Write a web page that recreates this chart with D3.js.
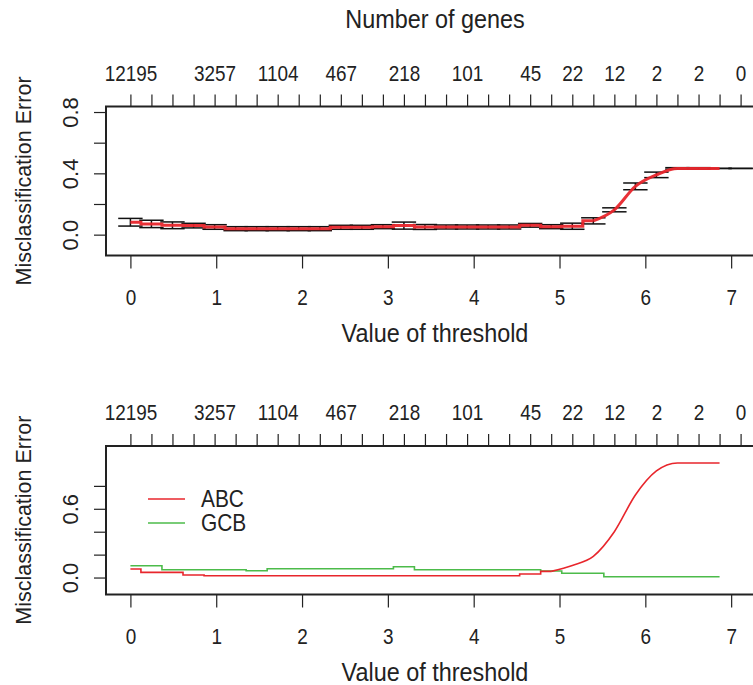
<!DOCTYPE html>
<html><head><meta charset="utf-8">
<script src="https://cdn.jsdelivr.net/npm/d3@7"></script>
<style>
body{margin:0;background:#fff}
svg{display:block}
text{font-family:"Liberation Sans",Arial,Helvetica,sans-serif;fill:#222}
</style>
</head><body>
<svg id="chart" width="753" height="685"></svg>
<script>
// ---- data ----
const thresholds = [0, 0.245, 0.490, 0.736, 0.981, 1.226, 1.471, 1.716, 1.961, 2.207,
  2.452, 2.697, 2.942, 3.187, 3.432, 3.678, 3.923, 4.168, 4.413, 4.658,
  4.903, 5.149, 5.394, 5.639, 5.884, 6.129, 6.374, 6.620, 6.865, 7.110];
const geneLabelIndex = [0, 4, 7, 10, 13, 16, 19, 21, 23, 25, 27, 29];
const geneLabels = ["12195", "3257", "1104", "467", "218", "101", "45", "22", "12", "2", "2", "0"];
// overall CV error (top panel)
const cvError = [0.081, 0.070, 0.061, 0.059, 0.050, 0.039, 0.039, 0.039, 0.039, 0.039,
  0.048, 0.048, 0.052, 0.059, 0.050, 0.050, 0.050, 0.050, 0.050, 0.061,
  0.052, 0.055, 0.090, 0.162, 0.315, 0.390, 0.432, 0.432, 0.432, 0.432];
const cvSE = [0.025, 0.024, 0.022, 0.015, 0.015, 0.013, 0.013, 0.013, 0.013, 0.013,
  0.013, 0.013, 0.013, 0.023, 0.016, 0.013, 0.013, 0.013, 0.013, 0.012,
  0.013, 0.020, 0.020, 0.013, 0.022, 0.018, 0.005, 0.005, 0.000, 0.000];
// class-wise error (bottom panel), last threshold has none
const classNames = ["ABC", "GCB"];
const errABC = [0.075, 0.045, 0.045, 0.022, 0.016, 0.016, 0.016, 0.016, 0.016, 0.016,
  0.016, 0.016, 0.016, 0.016, 0.016, 0.016, 0.016, 0.016, 0.016, 0.031,
  0.054, 0.106, 0.185, 0.400, 0.720, 0.930, 1.000, 1.000, 1.000];
const errGCB = [0.103, 0.103, 0.068, 0.068, 0.068, 0.068, 0.059, 0.077, 0.077, 0.077,
  0.077, 0.077, 0.077, 0.094, 0.068, 0.068, 0.068, 0.068, 0.068, 0.068,
  0.057, 0.037, 0.037, 0.007, 0.007, 0.007, 0.007, 0.007, 0.007];
const yTicks = [0, 0.2, 0.4, 0.6, 0.8];
const yLabelsTop = [0, 0.4, 0.8];
const yLabelsBottom = [0, 0.6];
const xTicks = [0, 1, 2, 3, 4, 5, 6, 7];

// ---- drawing ----
const svg = d3.select("#chart");
const colRed = "#e8262c", colGreen = "#4cbb4a", ink = "#222";
const left = 106, right = 765;
const FS = 22, SX = 0.86;          // tick label font, horizontal squeeze
const TS = 26, TSX = 0.9;          // title font

const xDom = [-0.2844, 7.3944];
function makePanel(pTop, pBottom, yDom, yLabs) {
  const x = d3.scaleLinear().domain(xDom).range([left, right]);
  const y = d3.scaleLinear().domain(yDom).range([pBottom, pTop]);
  const g = svg.append("g");
  g.append("rect").attr("x", left).attr("y", pTop).attr("width", right - left).attr("height", pBottom - pTop)
    .attr("fill", "none").attr("stroke", ink).attr("stroke-width", 2);
  const ax = g.append("g").attr("transform", `translate(0,${pBottom})`)
    .call(d3.axisBottom(x).tickValues(xTicks).tickFormat(d3.format("d")).tickSize(13).tickPadding(21));
  ax.select(".domain").remove();
  ax.selectAll("line").attr("stroke", ink).attr("stroke-width", 1.2);
  ax.selectAll("text").attr("font-size", FS).attr("fill", ink).attr("font-family", null)
    .attr("transform", `scale(${SX},1)`);
  const at = g.append("g").attr("transform", `translate(0,${pTop})`)
    .call(d3.axisTop(x).tickValues(thresholds).tickSize(12)
      .tickFormat((d, i) => { const k = geneLabelIndex.indexOf(i); return k >= 0 ? geneLabels[k] : ""; })
      .tickPadding(14));
  at.select(".domain").remove();
  at.selectAll("line").attr("stroke", ink).attr("stroke-width", 1.2);
  at.selectAll("text").attr("font-size", FS).attr("fill", ink).attr("font-family", null)
    .attr("transform", `scale(${SX},1)`);
  const al = g.append("g").attr("transform", `translate(${left},0)`)
    .call(d3.axisLeft(y).tickValues(yTicks).tickSize(12)
      .tickFormat(d => yLabs.includes(d) ? d3.format(".1f")(d) : ""));
  al.select(".domain").remove();
  al.selectAll("line").attr("stroke", ink).attr("stroke-width", 1.2);
  al.selectAll(".tick text").each(function() {
    d3.select(this).attr("x", 0).attr("y", 0).attr("dy", null)
      .attr("font-size", FS).attr("fill", ink).attr("font-family", null)
      .attr("text-anchor", "middle").attr("dominant-baseline", "central")
      .attr("transform", `translate(-36,0) rotate(-90)`);
  });
  g.append("text").attr("transform", `translate(435,${pBottom + 86}) scale(${TSX},1)`)
    .attr("text-anchor", "middle").attr("font-size", TS).text("Value of threshold");
  g.append("text").attr("transform", `translate(31,${(pTop + pBottom) / 2}) rotate(-90)`)
    .attr("text-anchor", "middle").attr("font-size", 21.5).text("Misclassification Error");
  return {x, y, g};
}

// top panel
const P1 = makePanel(106.5, 255.5, [-0.136, 0.836], yLabelsTop);
svg.append("text").attr("transform", `translate(435,28) scale(${TSX},1)`).attr("text-anchor", "middle")
  .attr("font-size", TS).text("Number of genes");
const topData = thresholds.map((t, i) => ({t, v: cvError[i], se: cvSE[i]}));
const barw = 0.02 * (d3.max(thresholds) - d3.min(thresholds));
const eb = P1.g.append("g").attr("stroke", "#111").attr("stroke-width", 1.5);
topData.forEach(d => {
  const x0 = P1.x(d.t), lo = P1.y(d.v - d.se), hi = P1.y(d.v + d.se);
  eb.append("line").attr("x1", x0).attr("x2", x0).attr("y1", lo).attr("y2", hi);
  eb.append("line").attr("x1", P1.x(d.t - barw)).attr("x2", P1.x(d.t + barw)).attr("y1", hi).attr("y2", hi);
  eb.append("line").attr("x1", P1.x(d.t - barw)).attr("x2", P1.x(d.t + barw)).attr("y1", lo).attr("y2", lo);
});
const stepLine = (p) => d3.line().x(d => p.x(d.t)).y(d => p.y(d.v)).curve(d3.curveStep);
const smoothLine = (p) => d3.line().x(d => p.x(d.t)).y(d => p.y(d.v)).curve(d3.curveMonotoneX);
const topRed = topData.slice(0, 29);
P1.g.append("path").attr("d", stepLine(P1)(topRed.slice(0, 23))).attr("fill", "none")
  .attr("stroke", colRed).attr("stroke-width", 3).attr("opacity", 0.95);
P1.g.append("path").attr("d", smoothLine(P1)(topRed.slice(22))).attr("fill", "none")
  .attr("stroke", colRed).attr("stroke-width", 3).attr("opacity", 0.95);

// bottom panel
const P2 = makePanel(446, 594.5, [-0.148, 1.148], yLabelsBottom);
const abc = errABC.map((v, i) => ({t: thresholds[i], v}));
const gcb = errGCB.map((v, i) => ({t: thresholds[i], v}));
P2.g.append("path").attr("d", stepLine(P2)(gcb)).attr("fill", "none")
  .attr("stroke", colGreen).attr("stroke-width", 1.6);
P2.g.append("path").attr("d", stepLine(P2)(abc.slice(0, 21))).attr("fill", "none")
  .attr("stroke", colRed).attr("stroke-width", 1.6);
P2.g.append("path").attr("d", smoothLine(P2)(abc.slice(20))).attr("fill", "none")
  .attr("stroke", colRed).attr("stroke-width", 1.6);
const lg = P2.g.append("g");
[[classNames[0], colRed], [classNames[1], colGreen]].forEach(([name, c], i) => {
  const yy = 499 + i * 24;
  lg.append("line").attr("x1", 148).attr("x2", 185).attr("y1", yy).attr("y2", yy)
    .attr("stroke", c).attr("stroke-width", 1.6);
  lg.append("text").attr("transform", `translate(201,${yy}) scale(0.87,1)`).attr("dy", "0.35em")
    .attr("font-size", 24).text(name);
});
</script>
</body></html>
